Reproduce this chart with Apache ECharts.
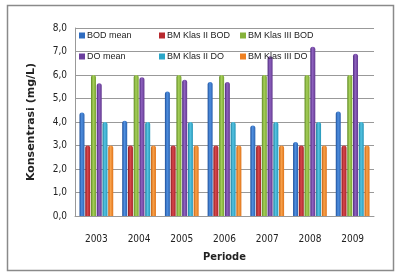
<!DOCTYPE html>
<html>
<head>
<meta charset="utf-8">
<script src="https://cdn.jsdelivr.net/npm/echarts@6/dist/echarts.min.js"></script>
<style>
  html, body { margin: 0; padding: 0; background: #fff; }
  #chart { width: 397px; height: 273px; }
</style>
</head>
<body>
<div id="chart"></div>
<script>
const years = ['2003', '2004', '2005', '2006', '2007', '2008', '2009']
const bodMean = [4.4, 4.05, 5.3, 5.7, 3.85, 3.15, 4.45]
const bmKlas2Bod = [3, 3, 3, 3, 3, 3, 3]
const bmKlas3Bod = [6, 6, 6, 6, 6, 6, 6]
const doMean = [5.65, 5.9, 5.8, 5.7, 6.8, 7.2, 6.9]
const bmKlas2Do = [4, 4, 4, 4, 4, 4, 4]
const bmKlas3Do = [3, 3, 3, 3, 3, 3, 3]

// cylinder-ish shading for each bar colour
const cyl = (dark, mid, light) => new echarts.graphic.LinearGradient(0, 0, 1, 0, [
  { offset: 0, color: dark },
  { offset: 0.45, color: light },
  { offset: 1, color: mid },
])

const seriesDefs = [
  { name: 'BOD mean', data: bodMean, color: cyl('#1d4f9a', '#2a62b0', '#4f8fe0'), flat: '#2f6cc0' },
  { name: 'BM Klas II BOD', data: bmKlas2Bod, color: cyl('#8c1a1f', '#a82228', '#d8474c'), flat: '#b82a2f' },
  { name: 'BM Klas III BOD', data: bmKlas3Bod, color: cyl('#5f8a22', '#77a32e', '#a6d05a'), flat: '#86b23a' },
  { name: 'DO mean', data: doMean, color: cyl('#4e2a7c', '#62388f', '#8f62c0'), flat: '#6b3f9e' },
  { name: 'BM Klas II DO', data: bmKlas2Do, color: cyl('#1a7e9c', '#2596b8', '#55c4e2'), flat: '#2aa6c8' },
  { name: 'BM Klas III DO', data: bmKlas3Do, color: cyl('#c45f10', '#e0741a', '#f8a14a'), flat: '#ee7f20' },
]

const chart = echarts.init(document.getElementById('chart'))
const font = '"Liberation Sans Narrow", "DejaVu Sans Condensed", sans-serif'

// legend laid out as 3 columns x 2 rows
const legendCols = [
  { left: 79, names: ['BOD mean', 'DO mean'] },
  { left: 159, names: ['BM Klas II BOD', 'BM Klas II DO'] },
  { left: 240, names: ['BM Klas III BOD', 'BM Klas III DO'] },
]
const legends = legendCols.map((c) => ({
  top: 31,
  left: c.left,
  padding: 0,
  orient: 'vertical',
  itemWidth: 6,
  itemHeight: 6,
  itemGap: 12,
  icon: 'rect',
  textStyle: { fontSize: 9, color: '#222', fontFamily: '"Liberation Sans Narrow", sans-serif', padding: [0, 0, 0, -3] },
  data: c.names.map((n) => ({ name: n, itemStyle: { color: seriesDefs.find((s) => s.name === n).flat } })),
}))

chart.setOption({
  animation: false,
  textStyle: { fontFamily: font },
  graphic: [{
    type: 'rect',
    shape: { x: 7.5, y: 5.5, width: 386, height: 265 },
    style: { fill: 'none', stroke: '#8a8a8a', lineWidth: 1.5 },
    z: -10,
  }],
  legend: legends,
  grid: { left: 75, right: 23, top: 28, bottom: 57 },
  xAxis: {
    type: 'category',
    data: years,
    name: 'Periode',
    nameLocation: 'middle',
    nameGap: 36,
    nameTextStyle: { fontWeight: 'bold', fontSize: 11, color: '#222', fontFamily: font },
    axisLine: { lineStyle: { color: '#999' } },
    axisTick: { show: false },
    axisLabel: { fontSize: 10, color: '#222', margin: 18 },
  },
  yAxis: {
    type: 'value',
    min: 0,
    max: 8,
    interval: 1,
    name: 'Konsentrasi (mg/L)',
    nameLocation: 'middle',
    nameGap: 38,
    nameTextStyle: { fontWeight: 'bold', fontSize: 11, color: '#222', fontFamily: '"DejaVu Sans", sans-serif' },
    axisLine: { show: true, lineStyle: { color: '#999' } },
    axisTick: { show: false },
    axisLabel: { fontSize: 10, color: '#222', margin: 8, formatter: (v) => v.toFixed(1).replace('.', ',') },
    splitLine: { lineStyle: { color: '#999', width: 1 } },
  },
  series: seriesDefs.map((s) => ({
    name: s.name,
    type: 'bar',
    data: s.data,
    barWidth: 5,
    barGap: '15%',
    barCategoryGap: '21%',
    itemStyle: { color: s.color, borderRadius: [2.5, 2.5, 0, 0] },
  })),
})
</script>
</body>
</html>
